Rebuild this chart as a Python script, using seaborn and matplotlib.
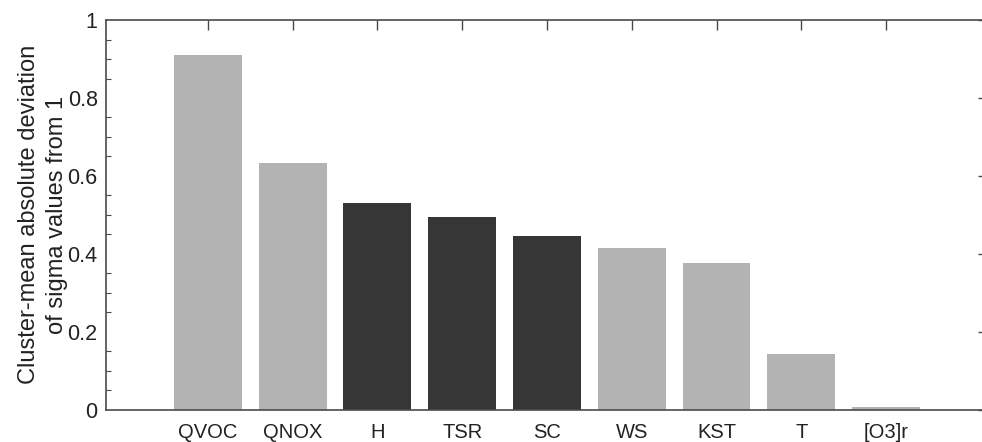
import matplotlib
matplotlib.use("Agg")
import matplotlib.pyplot as plt
import seaborn as sns
import pandas as pd
from matplotlib.ticker import MultipleLocator, FuncFormatter

# Cluster-mean absolute deviation of sigma values from 1, per parameter
categories = ["QVOC", "QNOX", "H", "TSR", "SC", "WS", "KST", "T", "[O3]r"]
values = [0.910, 0.634, 0.531, 0.495, 0.446, 0.415, 0.377, 0.143, 0.006]
groups = ["light", "light", "dark", "dark", "dark", "light", "light", "light", "light"]
palette = {"light": "#b3b3b3", "dark": "#363636"}

df = pd.DataFrame({"param": categories, "value": values, "group": groups})

sns.set_theme(style="white")
plt.rcParams["font.family"] = ["Liberation Sans", "DejaVu Sans"]

fig = plt.figure(figsize=(9.82, 4.42), dpi=100)
ax = fig.add_axes([0.108, 0.0735, 0.898, 0.881])

sns.barplot(data=df, x="param", y="value", hue="group", palette=palette,
            dodge=False, width=0.8, legend=False, ax=ax, saturation=1,
            linewidth=0)

ax.set_xlim(-1.2, 9.2)
ax.set_ylim(0, 1)
ax.set_xlabel("")
ax.set_ylabel("Cluster-mean absolute deviation\nof sigma values from 1",
              fontsize=17, color="#222222", labelpad=0, linespacing=1.3)

ax.yaxis.set_major_locator(MultipleLocator(0.2))
ax.yaxis.set_minor_locator(MultipleLocator(0.05))
ax.yaxis.set_major_formatter(FuncFormatter(lambda v, p: f"{v:g}"))

line_col = "#4a4a4a"
for s in ax.spines.values():
    s.set_visible(True)
    s.set_color(line_col)
    s.set_linewidth(1.2)

ax.tick_params(axis="both", which="major", direction="in", length=7,
               width=1.0, color=line_col, labelcolor="#222222",
               top=True, right=True, pad=6)
ax.tick_params(axis="y", which="major", labelsize=15.5)
ax.tick_params(axis="x", which="major", labelsize=14.5, pad=10)
ax.tick_params(axis="y", which="minor", direction="in", length=3.5,
               width=0.8, color=line_col, left=True, right=True)
ax.tick_params(axis="x", which="minor", bottom=False, top=False)

fig.savefig("out.png", dpi=100)
